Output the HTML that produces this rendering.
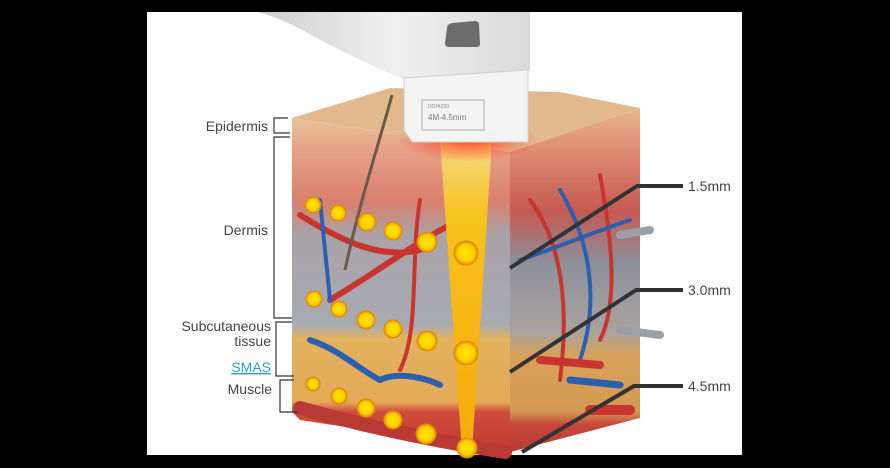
<!DOCTYPE html>
<html><head><style>
html,body{margin:0;padding:0;background:#000;}
svg{display:block}
text{font-family:"Liberation Sans",sans-serif;}
</style></head><body>
<svg width="890" height="468" viewBox="0 0 890 468" xmlns="http://www.w3.org/2000/svg">
<defs>
<linearGradient id="front" x1="0" y1="0" x2="0" y2="1">
<stop offset="0" stop-color="#e9c49a"/>
<stop offset="0.08" stop-color="#e8a58a"/>
<stop offset="0.25" stop-color="#d9806e"/>
<stop offset="0.35" stop-color="#a9a3a8"/>
<stop offset="0.62" stop-color="#a8aab2"/>
<stop offset="0.66" stop-color="#e2b25f"/>
<stop offset="0.85" stop-color="#e3aa58"/>
<stop offset="0.88" stop-color="#cf4c3c"/>
<stop offset="1" stop-color="#c23a32"/>
</linearGradient>
<linearGradient id="side" x1="0" y1="0" x2="0" y2="1">
<stop offset="0" stop-color="#e6b98e"/>
<stop offset="0.12" stop-color="#df8c74"/>
<stop offset="0.3" stop-color="#c55a52"/>
<stop offset="0.45" stop-color="#8d8f9a"/>
<stop offset="0.65" stop-color="#a9a3a0"/>
<stop offset="0.72" stop-color="#d8a15a"/>
<stop offset="0.88" stop-color="#d49a55"/>
<stop offset="0.92" stop-color="#c8483c"/>
<stop offset="1" stop-color="#b83a33"/>
</linearGradient>
<linearGradient id="cone" x1="0" y1="0" x2="0" y2="1">
<stop offset="0" stop-color="#f6d88a"/>
<stop offset="0.25" stop-color="#f7c21a"/>
<stop offset="1" stop-color="#f6a90c"/>
</linearGradient>
<linearGradient id="hand" x1="0" y1="0" x2="1" y2="0">
<stop offset="0" stop-color="#cfcfcf"/>
<stop offset="0.5" stop-color="#f0f0f0"/>
<stop offset="1" stop-color="#dadada"/>
</linearGradient>
<radialGradient id="dot"><stop offset="0" stop-color="#ffe600"/><stop offset="0.7" stop-color="#fcd000"/><stop offset="1" stop-color="#e08a00"/></radialGradient>
<radialGradient id="glow" cx="0.5" cy="0.5" r="0.5"><stop offset="0" stop-color="#ff3b1f" stop-opacity="0.9"/><stop offset="1" stop-color="#ff3b1f" stop-opacity="0"/></radialGradient>
</defs>
<rect x="147" y="12" width="595" height="443" fill="#fff"/>
<polygon points="292,118 390,88 560,92 640,108 510,152" fill="#e2b98d"/>
<polygon points="510,152 640,108 640,418 510,452" fill="url(#side)"/>
<polygon points="292,118 510,152 510,452 300,420 292,412" fill="url(#front)"/>
<g stroke-linecap="round" fill="none">
<path d="M300,215 C340,240 380,260 420,250" stroke="#c8342e" stroke-width="6"/>
<path d="M330,300 C380,270 420,240 450,225" stroke="#c8342e" stroke-width="6"/>
<path d="M310,340 C340,350 360,370 380,380" stroke="#2d5fb0" stroke-width="6"/>
<path d="M380,380 C400,370 430,380 440,385" stroke="#2d5fb0" stroke-width="6"/>
<path d="M320,200 L330,300" stroke="#2d5fb0" stroke-width="4"/>
<path d="M420,200 C410,260 420,330 400,370" stroke="#c8342e" stroke-width="4"/>
<path d="M530,200 C560,240 570,300 560,380" stroke="#c8342e" stroke-width="4"/>
<path d="M560,190 C590,240 600,300 580,360" stroke="#2d5fb0" stroke-width="4"/>
<path d="M600,175 C610,230 620,300 600,340" stroke="#c8342e" stroke-width="4"/>
<path d="M520,260 C550,250 600,230 630,220" stroke="#2d5fb0" stroke-width="4"/>
<path d="M540,360 L600,365" stroke="#c8342e" stroke-width="8"/>
<path d="M570,380 L620,385" stroke="#2d5fb0" stroke-width="7"/>
<path d="M590,410 L630,410" stroke="#c8342e" stroke-width="10"/>
<path d="M620,235 L650,230" stroke="#9aa0a8" stroke-width="8"/>
<path d="M620,330 L660,335" stroke="#9aa0a8" stroke-width="8"/>
<path d="M300,408 C360,425 430,440 505,452" stroke="#b93a34" stroke-width="14"/>
</g>
<path d="M392,95 C380,140 360,200 345,270" stroke="#6a5a48" stroke-width="3" fill="none"/>
<polygon points="440,140 492,140 472,452 462,452" fill="url(#cone)"/>
<ellipse cx="468" cy="140" rx="70" ry="22" fill="url(#glow)"/>
<path d="M258,12 L530,12 L530,70 L520,80 L406,80 C380,70 350,55 320,40 C300,28 280,18 258,12 Z" fill="url(#hand)"/>
<path d="M447,28 Q447,24 452,23 L475,21 Q479,21 479,25 L480,44 Q480,47 476,47 L449,47 Q445,47 445,43 Z" fill="#6c6c6c"/>
<path d="M404,78 L528,70 L528,142 L412,142 L404,130 Z" fill="#f4f4f4" stroke="#cfcfcf"/>
<rect x="422" y="100" width="62" height="30" fill="none" stroke="#9a9a9a" stroke-width="0.8"/>
<text x="428" y="108" font-size="5" fill="#888">DOHIZ20</text>
<text x="428" y="120" font-size="8" fill="#777">4M-4.5mm</text>
<g fill="url(#dot)" stroke="#e08a00" stroke-width="1">
<circle cx="313" cy="205" r="8"/><circle cx="338" cy="213" r="8"/><circle cx="367" cy="222" r="9"/><circle cx="393" cy="231" r="9"/><circle cx="427" cy="242" r="10"/><circle cx="466" cy="253" r="12"/>
<circle cx="314" cy="299" r="8"/><circle cx="339" cy="309" r="8"/><circle cx="366" cy="320" r="9"/><circle cx="393" cy="329" r="9"/><circle cx="427" cy="341" r="10"/><circle cx="466" cy="353" r="12"/>
<circle cx="313" cy="384" r="7"/><circle cx="339" cy="396" r="8"/><circle cx="366" cy="408" r="9"/><circle cx="393" cy="420" r="9"/><circle cx="426" cy="434" r="10"/><circle cx="467" cy="448" r="10"/>
</g>
<g font-size="14" fill="#444">
<text x="268" y="131" text-anchor="end">Epidermis</text>
<text x="268" y="235" text-anchor="end">Dermis</text>
<text x="271" y="331" text-anchor="end">Subcutaneous</text>
<text x="271" y="346" text-anchor="end">tissue</text>
<text x="271" y="372" text-anchor="end" fill="#2aa0c8" text-decoration="underline">SMAS</text>
<text x="272" y="394" text-anchor="end">Muscle</text>
</g>
<g stroke="#333" stroke-width="1.2" fill="none">
<path d="M288,118 L274,118 L274,133 L290,133"/>
<path d="M290,137 L274,137 L274,318 L292,318"/>
<path d="M292,322 L276,322 L276,376 L294,376"/>
<path d="M294,380 L280,380 L280,412 L298,412"/>
</g>
<g stroke="#333" stroke-width="4" fill="none" stroke-linejoin="bevel">
<path d="M683,186 L637,186 L510,268"/>
<path d="M683,290 L636,290 L510,372"/>
<path d="M683,386 L634,386 L522,452"/>
</g>
<g font-size="14" fill="#444">
<text x="688" y="191">1.5mm</text>
<text x="688" y="295">3.0mm</text>
<text x="688" y="391">4.5mm</text>
</g>
</svg>
</body></html>
